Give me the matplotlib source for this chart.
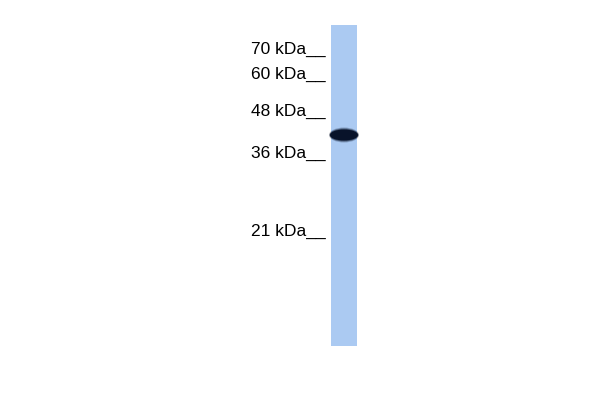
import matplotlib.pyplot as plt
from matplotlib.patches import Rectangle, Ellipse

# marker ladder: label text and vertical pixel position on the blot
marker_labels = ['70 kDa', '60 kDa', '48 kDa', '36 kDa', '21 kDa']
marker_y = [49, 74, 111, 153, 231]

# one detected band (kDa, pixel y)
band_kda = [40]
band_y = [135]

lane_x = (331, 357)
lane_top, lane_bottom = 25, 346

plt.rcParams['font.family'] = ['Liberation Sans', 'DejaVu Sans']

fig = plt.figure(figsize=(6, 4), dpi=100)
ax = fig.add_axes([0, 0, 1, 1])
ax.set_xlim(0, 600)
ax.set_ylim(400, 0)
ax.axis('off')

# lane
ax.add_patch(Rectangle((lane_x[0], lane_top), lane_x[1] - lane_x[0], lane_bottom - lane_top,
                       facecolor='#abcaf2', edgecolor='none'))

# band, a few layers to soften the edge
cx = (lane_x[0] + lane_x[1]) / 2
for w, h, a in [(30, 15, 0.25), (29, 13, 0.5), (28, 11, 1.0)]:
    for y in band_y:
        ax.add_patch(Ellipse((cx, y), w, h, facecolor='#08132a', edgecolor='none', alpha=a))

for lab, y in zip(marker_labels, marker_y):
    ax.text(326, y, lab + '__', ha='right', va='center', fontsize=12.5, color='black')

plt.savefig('out.png', dpi=100)
